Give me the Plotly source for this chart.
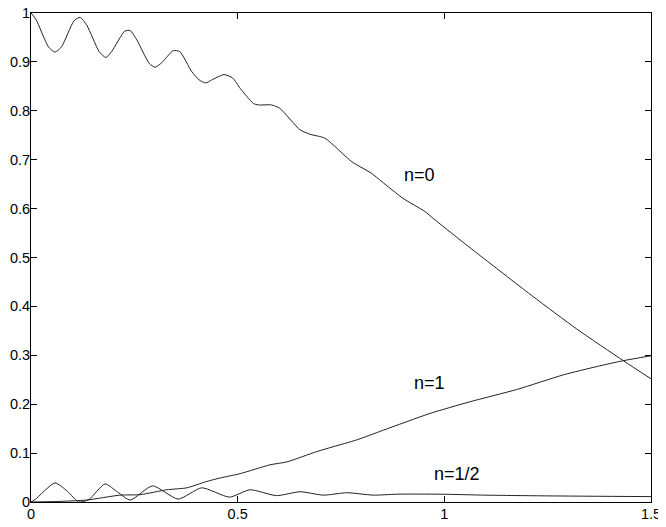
import plotly.graph_objects as go

# n = 0 curve
n0_x = [0, 0.012, 0.042, 0.058, 0.074, 0.104, 0.119, 0.135, 0.165, 0.181, 0.195, 0.227, 0.24, 0.256,
        0.286, 0.30, 0.316, 0.344, 0.36, 0.389, 0.407, 0.423, 0.437, 0.467, 0.488, 0.506, 0.538, 0.55,
        0.582, 0.602, 0.651, 0.675, 0.711, 0.776, 0.824, 0.849, 0.9, 0.953, 0.973, 1.038, 1.094, 1.215,
        1.32, 1.433, 1.5]
n0_y = [1.0, 0.987, 0.931, 0.92, 0.931, 0.984, 0.991, 0.975, 0.921, 0.909, 0.921, 0.963, 0.964, 0.945,
        0.897, 0.889, 0.898, 0.923, 0.921, 0.88, 0.863, 0.857, 0.863, 0.874, 0.867, 0.846, 0.815, 0.812,
        0.812, 0.805, 0.761, 0.752, 0.744, 0.696, 0.672, 0.655, 0.621, 0.594, 0.58, 0.536, 0.499, 0.42,
        0.354, 0.289, 0.252]

# n = 1 curve
n1_x = [0, 0.06, 0.135, 0.215, 0.264, 0.328, 0.377, 0.425, 0.457, 0.506, 0.578, 0.619, 0.691, 0.731,
        0.788, 0.853, 0.965, 1.062, 1.175, 1.288, 1.369, 1.433, 1.5]
n1_y = [0, 0.001, 0.004, 0.014, 0.015, 0.025, 0.029, 0.042, 0.049, 0.058, 0.076, 0.082, 0.103, 0.113,
        0.127, 0.147, 0.181, 0.205, 0.230, 0.260, 0.277, 0.289, 0.299]

# n = 1/2 curve
nh_x = [0, 0.01, 0.058, 0.088, 0.115, 0.14, 0.179, 0.21, 0.24, 0.294, 0.356, 0.413, 0.48, 0.53, 0.594,
        0.651, 0.707, 0.764, 0.828, 0.885, 0.99, 1.1, 1.25, 1.5]
nh_y = [0, 0.005, 0.039, 0.022, 0.0, 0.005, 0.037, 0.02, 0.004, 0.033, 0.006, 0.029, 0.01, 0.025, 0.013,
        0.021, 0.014, 0.019, 0.014, 0.016, 0.016, 0.014, 0.0125, 0.011]

labels = ["n=0", "n=1", "n=1/2"]
label_x = [0.941, 0.963, 1.03]
label_y = [0.669, 0.243, 0.057]

x_ticks = [0, 0.5, 1, 1.5]
x_ticktext = ["0", "0.5", "1", "1.5"]
y_ticks = [0, 0.1, 0.2, 0.3, 0.4, 0.5, 0.6, 0.7, 0.8, 0.9, 1]
y_ticktext = ["0", "0.1", "0.2", "0.3", "0.4", "0.5", "0.6", "0.7", "0.8", "0.9", "1"]

fig = go.Figure()
line_style = dict(color="#222222", width=1, shape="spline", smoothing=0.6)
for xs, ys, name in [(n0_x, n0_y, "n=0"), (n1_x, n1_y, "n=1"), (nh_x, nh_y, "n=1/2")]:
    fig.add_trace(go.Scatter(x=xs, y=ys, mode="lines", line=line_style, name=name, showlegend=False))

for t, lx, ly in zip(labels, label_x, label_y):
    fig.add_annotation(x=lx, y=ly, text=t, showarrow=False,
                       font=dict(family="Liberation Sans, Arial, sans-serif", size=18, color="#000"))

axis_common = dict(showgrid=False, zeroline=False, showline=True, linecolor="#000", linewidth=1,
                   mirror="ticks", ticks="inside", ticklen=6, tickcolor="#000", tickwidth=1,
                   automargin=False, ticklabeloverflow="allow",
                   tickfont=dict(family="Liberation Sans, Arial, sans-serif", size=14.5, color="#000"))

# the page body adds an 8px offset; margins are set so the plot area lands where the reference has it
fig.update_layout(
    width=666, height=527,
    margin=dict(l=23, r=23, t=5, b=33),
    paper_bgcolor="white", plot_bgcolor="white",
    xaxis=dict(range=[0, 1.5], tickvals=x_ticks, ticktext=x_ticktext, ticklabelstandoff=-1, **axis_common),
    yaxis=dict(range=[0, 1], tickvals=y_ticks, ticktext=y_ticktext, ticklabelstandoff=-3, **axis_common),
)

fig.write_html("out.html")
